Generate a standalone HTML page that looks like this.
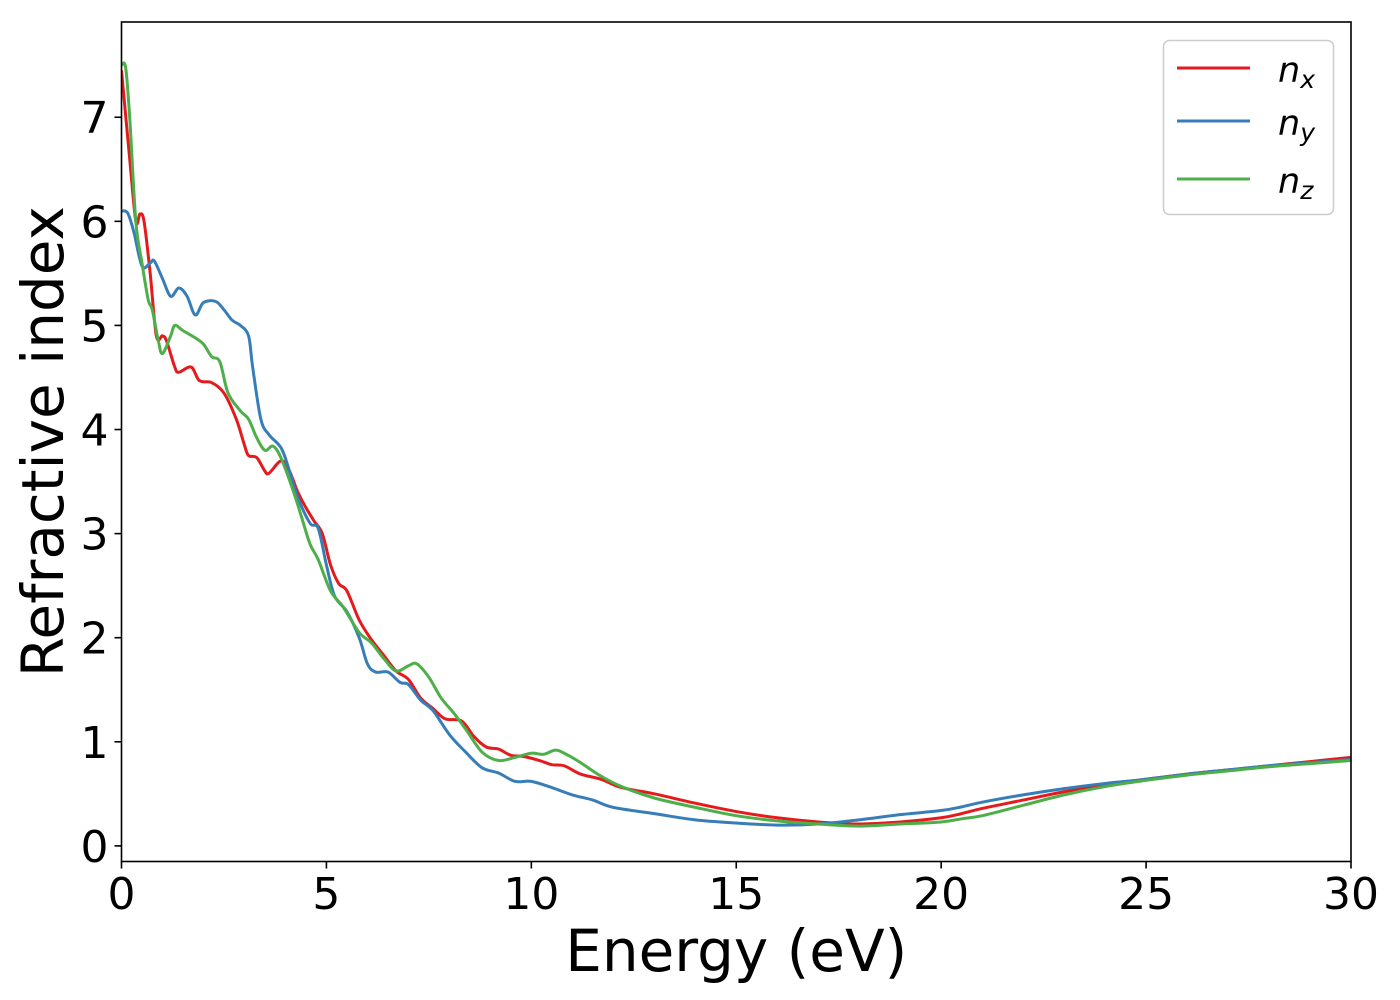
<!DOCTYPE html>
<html><head><meta charset="utf-8"><style>
html,body{margin:0;padding:0;background:#fff;}
svg{display:block;font-family:"DejaVu Sans","Liberation Sans",sans-serif;}
</style></head><body>
<svg id="chart" width="1400" height="1000" viewBox="0 0 1400 1000">
<rect x="0" y="0" width="1400" height="1000" fill="#fff"/>
<g id="plot"></g>
<g id="axes"></g>
<g id="legend">
<rect x="1163.5" y="40.5" width="170" height="174" rx="6" fill="#fff" fill-opacity="0.8" stroke="#ccc" stroke-width="1.5"/>
<line x1="1177" y1="68" x2="1250" y2="68" stroke="#e41a1c" stroke-width="3"/>
<line x1="1177" y1="121" x2="1250" y2="121" stroke="#377eb8" stroke-width="3"/>
<line x1="1177" y1="179" x2="1250" y2="179" stroke="#4daf4a" stroke-width="3"/>
<text x="1278" y="82" font-size="35" font-style="italic">n<tspan font-size="25" dy="6">x</tspan></text>
<text x="1278" y="135" font-size="35" font-style="italic">n<tspan font-size="25" dy="6">y</tspan></text>
<text x="1278" y="193" font-size="35" font-style="italic">n<tspan font-size="25" dy="6">z</tspan></text>
</g>
</svg>
<script>
const energyX = [0,0.2,0.35,0.45,0.55,0.7,0.85,1.0,1.1,1.3,1.4,1.7,1.9,2.2,2.5,2.8,3.0,3.1,3.3,3.5,3.6,3.9,4.1,4.3,4.5,4.7,4.9,5.1,5.3,5.5,5.8,6.1,6.4,6.7,7.0,7.3,7.6,7.9,8.3,8.6,8.9,9.2,9.5,9.8,10.2,10.5,10.8,11.2,11.7,12.2,13,14,15,16,17,18,19,20,20.5,21,22,23,24,25,26,27,28,29,30];
const nxValues = [7.45,6.6,6.0,6.07,6.0,5.5,4.9,4.9,4.85,4.6,4.55,4.6,4.47,4.45,4.35,4.1,3.85,3.75,3.73,3.6,3.58,3.7,3.6,3.4,3.25,3.12,3.0,2.7,2.52,2.45,2.17,1.98,1.83,1.68,1.6,1.42,1.32,1.22,1.2,1.05,0.95,0.93,0.87,0.86,0.82,0.78,0.77,0.69,0.64,0.56,0.5,0.41,0.33,0.27,0.23,0.21,0.23,0.27,0.31,0.36,0.44,0.52,0.59,0.64,0.69,0.73,0.77,0.81,0.85];
const energyY = [0,0.15,0.3,0.5,0.7,0.8,1.0,1.2,1.4,1.6,1.8,2.0,2.3,2.5,2.7,2.9,3.1,3.2,3.4,3.6,3.9,4.1,4.3,4.6,4.8,5.0,5.2,5.5,5.8,6.0,6.2,6.5,6.8,7.0,7.3,7.6,8.0,8.4,8.8,9.2,9.6,10.0,10.5,11.0,11.5,12,13,14,15,16,17,18,19,20,20.5,21,22,23,24,25,26,27,28,29,30];
const nyValues = [6.1,6.08,5.9,5.57,5.6,5.62,5.45,5.28,5.36,5.28,5.1,5.22,5.23,5.15,5.05,5.0,4.9,4.6,4.1,3.95,3.82,3.6,3.35,3.1,3.05,2.7,2.4,2.25,2.0,1.75,1.67,1.67,1.57,1.55,1.4,1.3,1.07,0.9,0.75,0.7,0.62,0.62,0.56,0.49,0.44,0.37,0.31,0.25,0.22,0.2,0.21,0.25,0.3,0.34,0.375,0.42,0.49,0.55,0.6,0.64,0.69,0.73,0.77,0.8,0.83];
const energyZ = [0,0.1,0.2,0.35,0.5,0.65,0.75,0.9,1.0,1.2,1.3,1.5,1.8,2.0,2.2,2.4,2.6,2.9,3.1,3.3,3.5,3.7,3.9,4.2,4.4,4.6,4.8,5.1,5.4,5.8,6.1,6.4,6.7,7.0,7.2,7.5,7.8,8.1,8.4,8.8,9.2,9.6,10.0,10.3,10.6,10.9,11.2,11.7,12.2,13,14,15,16,17,18,19,20,20.5,21,22,23,24,25,26,27,28,29,30];
const nzValues = [7.5,7.48,7.0,6.0,5.6,5.25,5.15,4.85,4.73,4.9,5.0,4.95,4.88,4.82,4.7,4.65,4.35,4.18,4.1,3.92,3.8,3.84,3.72,3.4,3.15,2.9,2.75,2.45,2.3,2.05,1.95,1.8,1.68,1.73,1.75,1.62,1.42,1.28,1.12,0.9,0.82,0.85,0.89,0.88,0.92,0.87,0.8,0.67,0.57,0.46,0.37,0.29,0.24,0.21,0.19,0.21,0.23,0.26,0.29,0.39,0.49,0.57,0.63,0.68,0.72,0.76,0.79,0.82];
const xTicks = [0,5,10,15,20,25,30];
const yTicks = [0,1,2,3,4,5,6,7];

const NS = "http://www.w3.org/2000/svg";
const L = 121.5, R = 1351, T = 22, B = 861.5;
const xMin = 0, xMax = 30, yMin = -0.15, yMax = 7.915;
function sx(e){ return L + (e - xMin) / (xMax - xMin) * (R - L); }
function sy(v){ return B - (v - yMin) / (yMax - yMin) * (B - T); }

function pathFrom(xs, ys){
  const p = xs.map((x,i)=>[sx(x), sy(ys[i])]);
  let d = "M" + p[0][0].toFixed(2) + "," + p[0][1].toFixed(2);
  for (let i=0;i<p.length-1;i++){
    const p0 = p[Math.max(0,i-1)], p1 = p[i], p2 = p[i+1], p3 = p[Math.min(p.length-1,i+2)];
    const c1x = p1[0] + (p2[0]-p0[0])/6, c1y = p1[1] + (p2[1]-p0[1])/6;
    const c2x = p2[0] - (p3[0]-p1[0])/6, c2y = p2[1] - (p3[1]-p1[1])/6;
    d += " C" + c1x.toFixed(2)+","+c1y.toFixed(2)+" "+c2x.toFixed(2)+","+c2y.toFixed(2)+" "+p2[0].toFixed(2)+","+p2[1].toFixed(2);
  }
  return d;
}

const plot = document.getElementById("plot");
const clip = document.createElementNS(NS,"clipPath");
clip.setAttribute("id","clipArea");
const cr = document.createElementNS(NS,"rect");
cr.setAttribute("x",L); cr.setAttribute("y",T); cr.setAttribute("width",R-L); cr.setAttribute("height",B-T);
clip.appendChild(cr);
plot.appendChild(clip);
plot.setAttribute("clip-path","url(#clipArea)");

const series = [
  {xs: energyX, ys: nxValues, color: "#e41a1c", name: "series-nx"},
  {xs: energyY, ys: nyValues, color: "#377eb8", name: "series-ny"},
  {xs: energyZ, ys: nzValues, color: "#4daf4a", name: "series-nz"}
];
series.forEach(s=>{
  const path = document.createElementNS(NS,"path");
  path.setAttribute("d", pathFrom(s.xs, s.ys));
  path.setAttribute("fill","none");
  path.setAttribute("stroke", s.color);
  path.setAttribute("stroke-width","3");
  path.setAttribute("stroke-linejoin","round");
  
  
  plot.appendChild(path);
});

const axes = document.getElementById("axes");
const frame = document.createElementNS(NS,"rect");
frame.setAttribute("x",L); frame.setAttribute("y",T); frame.setAttribute("width",R-L); frame.setAttribute("height",B-T);
frame.setAttribute("fill","none"); frame.setAttribute("stroke","#000"); frame.setAttribute("stroke-width","1.6");


axes.appendChild(frame);

xTicks.forEach(t=>{
  const x = sx(t);
  const ln = document.createElementNS(NS,"line");
  ln.setAttribute("x1",x); ln.setAttribute("x2",x); ln.setAttribute("y1",B); ln.setAttribute("y2",B+7);
  ln.setAttribute("stroke","#000"); ln.setAttribute("stroke-width","1.6");
  
  
  axes.appendChild(ln);
  const tx = document.createElementNS(NS,"text");
  tx.setAttribute("x",x); tx.setAttribute("y",909); tx.setAttribute("text-anchor","middle"); tx.setAttribute("font-size","44");
  tx.textContent = t;
  
  
  axes.appendChild(tx);
});
yTicks.forEach(t=>{
  const y = sy(t);
  const ln = document.createElementNS(NS,"line");
  ln.setAttribute("x1",L-7); ln.setAttribute("x2",L); ln.setAttribute("y1",y); ln.setAttribute("y2",y);
  ln.setAttribute("stroke","#000"); ln.setAttribute("stroke-width","1.6");
  
  
  axes.appendChild(ln);
  const tx = document.createElementNS(NS,"text");
  tx.setAttribute("x",L-13); tx.setAttribute("y",y+16); tx.setAttribute("text-anchor","end"); tx.setAttribute("font-size","44");
  tx.textContent = t;
  
  
  axes.appendChild(tx);
});
const xt = document.createElementNS(NS,"text");
xt.setAttribute("x",(L+R)/2); xt.setAttribute("y",971); xt.setAttribute("text-anchor","middle"); xt.setAttribute("font-size","58");
xt.textContent = "Energy (eV)";


axes.appendChild(xt);
const yt = document.createElementNS(NS,"text");
yt.setAttribute("transform","translate(63,"+((T+B)/2)+") rotate(-90)");
yt.setAttribute("text-anchor","middle"); yt.setAttribute("font-size","58");
yt.textContent = "Refractive index";


axes.appendChild(yt);
</script>
</body></html>
